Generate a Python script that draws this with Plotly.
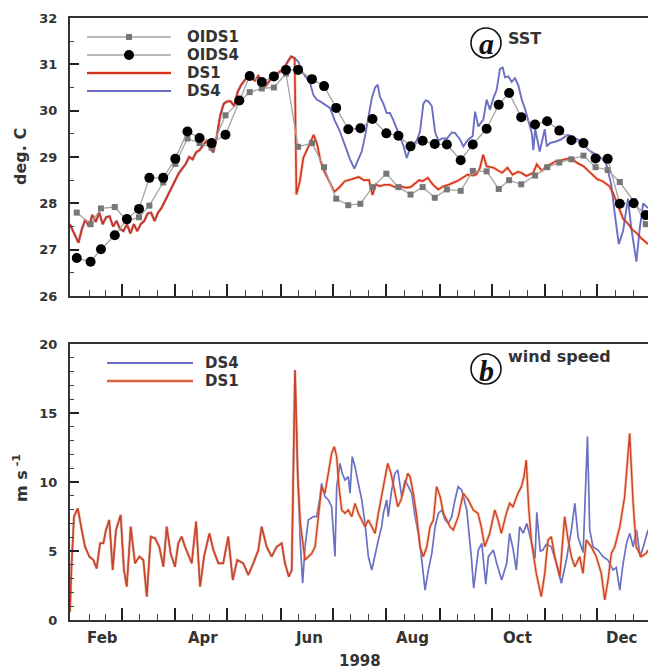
import plotly.graph_objects as go

# ---------------- data (x = day of year 1998) ----------------
# SST, DS1 run (the DS4 run is identical until the divergence in early June)
sst_ds1_day = [30, 32, 35, 37, 39, 41, 43, 45, 47, 49, 51, 53, 55, 57, 59, 61, 63, 65, 67, 69,
               71, 73, 75, 77, 79, 81, 83, 85, 87, 89, 91, 93, 95, 97, 99, 101, 103, 105, 107, 109,
               111, 113, 115, 117, 119, 121, 123, 125, 127, 129, 131, 133, 135, 137, 139, 141, 143, 146, 149, 152,
               154, 156, 158, 160, 161, 163, 165, 168, 170, 171, 173, 175, 177, 180, 183, 186, 189, 193, 197, 200,
               203, 205, 207, 209, 212, 215, 218, 221, 224, 227, 230, 232, 234, 237, 240, 243, 246, 249, 252, 254,
               257, 260, 263, 265, 267, 269, 271, 273, 275, 278, 280, 283, 286, 289, 291, 294, 296, 298, 300, 303,
               305, 308, 311, 314, 316, 320, 323, 327, 331, 335, 338, 342, 344, 347, 350, 353, 355, 358, 360, 364.3]
sst_ds1 = [27.55, 27.40, 27.15, 27.45, 27.65, 27.50, 27.75, 27.60, 27.80, 27.55, 27.70, 27.72, 27.50, 27.62, 27.45, 27.40, 27.55, 27.35, 27.55, 27.40,
           27.55, 27.62, 27.78, 27.80, 27.62, 27.80, 27.90, 28.05, 28.20, 28.35, 28.50, 28.65, 28.75, 28.85, 29.00, 28.95, 29.10, 29.15, 29.25, 29.35,
           29.20, 29.10, 29.45, 29.90, 30.15, 30.20, 30.20, 30.10, 30.40, 30.55, 30.65, 30.75, 30.70, 30.65, 30.75, 30.60, 30.52, 30.67, 30.77, 30.85,
           30.92, 31.06, 31.17, 31.13, 28.19, 28.48, 28.98, 29.23, 29.41, 29.48, 29.27, 28.91, 28.70, 28.48, 28.25, 28.35, 28.48, 28.52, 28.57, 28.50,
           28.50, 28.18, 28.41, 28.37, 28.40, 28.40, 28.35, 28.37, 28.34, 28.35, 28.44, 28.50, 28.48, 28.55, 28.40, 28.30, 28.37, 28.40, 28.45, 28.48,
           28.55, 28.62, 28.60, 28.62, 28.75, 29.05, 28.80, 28.78, 28.77, 28.70, 28.66, 28.77, 28.62, 28.68, 28.66, 28.59, 28.62, 28.66, 28.84, 28.70,
           28.78, 28.84, 28.91, 28.93, 28.95, 28.98, 28.88, 28.80, 28.66, 28.52, 28.48, 28.37, 28.23, 27.94, 27.66, 27.55, 27.44, 27.35, 27.26, 27.12]

# SST, DS4 run after it separates from DS1
sst_ds4_day = [162.1, 164.1, 166.0, 168.9, 170.8, 172.7, 174.7, 177.5, 180.4, 183.3, 186.2, 189.1, 192.0, 194.5, 196.8, 198.8, 200.7, 202.6, 204.6, 206.5,
               208.0, 209.3, 211.3, 213.2, 215.1, 217.0, 219.0, 220.9, 222.8, 224.8, 226.7, 228.6, 230.6, 232.5, 234.4, 235.8, 237.3, 239.3, 241.2, 243.1,
               245.1, 248.0, 250.8, 252.7, 255.6, 257.5, 260.4, 262.9, 264.3, 266.2, 269.1, 271.0, 272.9, 274.9, 276.8, 278.7, 280.3, 281.6, 283.5, 285.5,
               287.4, 289.3, 291.3, 293.2, 295.1, 297.1, 298.0, 299.1, 301.7, 304.6, 305.8, 307.6, 311.5, 314.1, 318.0, 321.9, 325.7, 329.6, 333.5, 337.3,
               340.2, 343.1, 345.0, 347.4, 349.9, 352.7, 354.7, 357.6, 359.5, 361.5, 364.3]
sst_ds4 = [31.06, 30.85, 30.74, 30.60, 30.34, 30.24, 30.20, 30.13, 30.06, 29.78, 29.55, 29.25, 28.95, 28.75, 28.95, 29.12, 29.45, 29.90, 30.27, 30.50,
           30.56, 30.30, 30.15, 29.95, 29.95, 29.80, 29.60, 29.41, 29.25, 28.98, 29.18, 29.25, 29.36, 29.55, 30.15, 30.22, 30.20, 30.10, 29.54, 29.35,
           29.40, 29.40, 29.53, 29.52, 29.38, 29.23, 29.38, 29.45, 29.98, 29.66, 29.81, 30.24, 30.02, 30.27, 30.45, 30.90, 30.93, 30.72, 30.74, 30.62,
           30.70, 30.55, 30.24, 30.04, 29.80, 29.52, 29.15, 29.60, 29.12, 29.60, 29.23, 29.30, 29.34, 29.38, 29.48, 29.41, 29.34, 29.16, 29.07, 28.98,
           28.85, 28.40, 27.80, 27.12, 27.40, 28.10, 27.45, 26.74, 27.45, 28.00, 27.90]

# weekly optimally interpolated SST
oi_day = [34, 42, 48, 56, 63, 70, 76, 84, 91, 98, 105, 112, 120, 128, 134, 141, 148, 155, 162, 170,
          177, 184, 191, 198, 205, 213, 220, 227, 234, 241, 248, 256, 263, 271, 278, 284, 291, 299, 306, 313,
          320, 327, 334, 341, 348, 356, 363]
oids1 = [27.80, 27.55, 27.89, 27.92, 27.62, 27.70, 27.95, 28.45, 28.85, 29.40, 29.30, 29.20, 29.90, 30.19, 30.40, 30.48, 30.50, 30.80, 29.22, 29.30,
         28.78, 28.10, 27.96, 27.99, 28.35, 28.64, 28.35, 28.19, 28.35, 28.12, 28.30, 28.27, 28.70, 28.69, 28.31, 28.50, 28.41, 28.60, 28.78, 28.88,
         28.95, 29.03, 28.78, 28.72, 28.46, 28.05, 27.55]
oids4 = [26.82, 26.74, 27.01, 27.31, 27.66, 27.88, 28.55, 28.55, 28.96, 29.55, 29.41, 29.30, 29.48, 30.22, 30.75, 30.62, 30.74, 30.88, 30.88, 30.68,
         30.53, 30.06, 29.60, 29.62, 29.82, 29.51, 29.46, 29.23, 29.35, 29.28, 29.27, 28.93, 29.27, 29.61, 30.13, 30.38, 29.86, 29.70, 29.77, 29.57,
         29.36, 29.30, 28.97, 28.96, 27.99, 28.00, 27.75]

# wind speed, common to both runs until the June event
wind_common_day = [30.1, 31.0, 32.4, 34.6, 36.9, 38.8, 41.3, 43.6, 45.5, 47.5, 49.4, 50.9, 52.8, 54.8, 56.7, 59.4, 61.3, 62.9, 65.2, 67.7,
                   70.2, 72.5, 74.5, 76.8, 79.3, 81.7, 84.1, 86.0, 88.3, 90.8, 92.7, 94.7, 96.6, 100.5, 103.0, 105.3, 107.6, 110.7, 113.0, 115.9,
                   118.7, 121.6, 124.2, 126.8, 130.3, 133.2, 136.1, 139.0, 140.9, 143.8, 146.7, 149.6, 152.5, 154.4, 156.6, 158.3, 160.2, 161.8]
wind_common = [0.6, 4.0, 7.49, 8.09, 6.52, 5.31, 4.59, 4.35, 3.74, 5.56, 5.56, 6.52, 7.25, 3.62, 6.52, 7.61, 3.62, 2.41, 6.76, 4.11,
               4.59, 4.35, 1.69, 6.04, 5.92, 5.31, 3.86, 6.76, 4.83, 3.86, 5.56, 6.04, 5.31, 4.11, 7.13, 2.41, 4.59, 6.28, 5.07, 4.11,
               4.11, 6.04, 2.90, 4.35, 4.11, 3.26, 4.11, 5.07, 6.76, 5.31, 4.59, 5.31, 5.56, 4.11, 3.14, 3.60, 18.12, 10.40]

wind_ds1_day = [163.3, 164.6, 166.0, 167.9, 169.9, 171.8, 173.7, 175.6, 177.5, 179.5, 181.4, 182.9, 184.3, 185.6, 187.2, 189.1, 191.0, 193.0, 194.9, 196.8,
                198.8, 200.7, 202.6, 204.6, 206.5, 208.4, 210.3, 212.2, 213.8, 215.7, 217.6, 219.6, 221.5, 223.4, 225.4, 226.7, 228.6, 230.6, 232.5, 234.4,
                236.4, 238.3, 240.2, 242.1, 244.1, 246.0, 248.0, 249.8, 251.7, 254.6, 257.5, 260.4, 263.3, 266.0, 267.9, 269.9, 272.8, 275.7, 277.6, 279.5,
                282.4, 284.3, 286.2, 289.1, 291.1, 292.6, 293.9, 295.3, 296.8, 299.7, 302.6, 304.6, 306.5, 308.4, 310.4, 313.3, 316.1, 318.1, 320.0, 322.0,
                324.8, 326.7, 328.6, 331.5, 334.4, 337.3, 339.3, 341.2, 343.1, 345.1, 348.0, 350.8, 353.7, 355.6, 357.5, 360.4, 363.3, 364.3]
wind_ds1 = [7.00, 5.50, 4.35, 4.59, 4.83, 5.31, 7.49, 9.66, 9.18, 10.63, 12.08, 12.56, 11.84, 9.66, 7.97, 7.73, 7.97, 7.49, 8.45, 7.73,
            7.25, 6.76, 7.25, 6.76, 6.28, 7.73, 8.94, 10.14, 11.35, 10.63, 9.42, 8.21, 8.70, 9.66, 10.63, 10.39, 9.18, 7.49, 5.31, 4.59,
            5.31, 6.76, 7.25, 9.66, 8.94, 7.73, 7.25, 6.76, 6.52, 7.49, 9.18, 8.70, 7.97, 7.73, 6.76, 5.31, 6.28, 7.97, 7.25, 6.28,
            7.73, 8.45, 8.21, 9.18, 9.66, 10.39, 11.59, 8.21, 5.80, 3.38, 1.69, 3.38, 5.80, 6.04, 4.59, 3.14, 7.49, 5.80, 4.59, 3.86,
            4.59, 3.38, 5.80, 5.31, 4.59, 3.38, 1.45, 2.90, 4.83, 5.31, 6.76, 8.94, 13.53, 8.70, 5.31, 4.59, 4.83, 5.07]

wind_ds4_day = [163.3, 164.6, 166.0, 167.9, 170.8, 172.7, 174.7, 175.6, 177.5, 179.5, 181.4, 183.3, 184.3, 186.2, 187.5, 189.1, 191.0, 192.0, 193.3, 194.9,
                196.8, 198.8, 200.7, 202.6, 204.6, 206.5, 208.4, 210.3, 211.3, 213.2, 214.1, 216.1, 218.0, 219.6, 220.9, 221.9, 223.8, 225.7, 227.7, 229.6,
                231.5, 233.5, 235.4, 237.3, 239.3, 241.2, 243.1, 245.1, 247.0, 248.9, 250.8, 252.7, 254.5, 256.6, 259.5, 262.2, 263.5, 266.2, 268.2, 270.5,
                272.0, 274.9, 276.8, 279.7, 282.6, 284.3, 286.2, 288.2, 290.1, 292.2, 294.2, 296.1, 298.0, 299.0, 300.0, 302.0, 303.5, 305.5, 308.4, 311.3,
                314.2, 317.1, 320.0, 322.0, 323.9, 326.8, 329.3, 330.6, 332.5, 335.4, 338.3, 341.1, 344.1, 346.0, 348.0, 349.9, 351.9, 353.8, 355.7, 357.7,
                359.7, 361.6, 364.3]
wind_ds4 = [5.50, 2.66, 5.31, 7.25, 7.49, 7.49, 8.94, 9.90, 8.94, 8.70, 8.21, 4.60, 9.66, 11.35, 10.63, 10.14, 10.39, 9.18, 11.84, 11.11,
            9.90, 8.70, 7.00, 4.59, 3.62, 4.83, 5.80, 6.76, 7.73, 8.70, 7.49, 9.42, 10.63, 10.87, 9.90, 8.94, 10.14, 9.66, 9.18, 7.49,
            6.28, 4.35, 2.17, 3.62, 4.83, 6.76, 7.73, 7.97, 7.25, 7.00, 7.49, 8.70, 9.66, 9.42, 7.97, 4.50, 2.30, 5.07, 5.56, 2.60,
            4.59, 5.07, 4.11, 2.90, 4.11, 6.28, 5.20, 3.62, 6.76, 6.28, 7.00, 6.04, 5.07, 4.50, 7.80, 5.00, 5.07, 5.50, 5.31, 4.11,
            2.66, 4.35, 6.52, 8.45, 6.00, 4.90, 13.29, 6.52, 5.31, 5.07, 4.59, 4.35, 3.62, 3.80, 2.17, 4.11, 5.56, 6.28, 5.31, 6.52,
            4.59, 5.31, 6.52]

# axis ticks
month_start = [60, 91, 121, 152, 182, 213, 244, 274, 305, 335]
month_len = [28, 31, 30, 31, 30, 31, 31, 30, 31, 30, 31]
month_label = ["Feb", "Apr", "Jun", "Aug", "Oct", "Dec"]
month_label_day = [49, 107, 168, 228, 289, 349]

# ---------------- assembly ----------------
split = sst_ds1_day.index(160)
sst_ds4_full_day = sst_ds1_day[:split + 1] + sst_ds4_day
sst_ds4_full = sst_ds1[:split + 1] + sst_ds4
wind_ds1_full_day = wind_common_day + wind_ds1_day
wind_ds1_full = wind_common + wind_ds1
wind_ds4_full_day = wind_common_day + wind_ds4_day
wind_ds4_full = wind_common + wind_ds4

starts_all = [32] + month_start
minor_ticks = [s + k * l / 3 for s, l in zip(starts_all, month_len) for k in (1, 2)]

RED = "#d3321e"
RED_GLOW = "rgba(245,140,90,0.45)"
RED_W = "#cf4024"
RED_W_GLOW = "rgba(240,150,100,0.5)"
BLUE = "#6a70c2"
GREY_LINE = "#a3a3a3"
TXT = "#333333"
FONT = "DejaVu Sans"

X_RANGE = [30.1, 364.3]
L, R_PIX, B_PIX, T_PIX = 70, 648, 620, 18


def pxx(x):
    return (x - L) / (R_PIX - L)


def pxy(y):
    return (B_PIX - y) / (B_PIX - T_PIX)


fig = go.Figure()

# --- SST panel ---
fig.add_trace(go.Scatter(x=sst_ds1_day, y=sst_ds1, mode="lines", line=dict(color=RED_GLOW, width=3.2),
                         xaxis="x", yaxis="y", hoverinfo="skip"))
fig.add_trace(go.Scatter(x=sst_ds4_full_day, y=sst_ds4_full, mode="lines", line=dict(color=BLUE, width=1.9),
                         xaxis="x", yaxis="y", name="DS4"))
fig.add_trace(go.Scatter(x=sst_ds1_day, y=sst_ds1, mode="lines", line=dict(color=RED, width=1.6),
                         xaxis="x", yaxis="y", name="DS1"))
fig.add_trace(go.Scatter(x=oi_day, y=oids1, mode="lines+markers", line=dict(color=GREY_LINE, width=1.3),
                         marker=dict(symbol="square", size=6, color="#777777"), xaxis="x", yaxis="y", name="OIDS1"))
fig.add_trace(go.Scatter(x=oi_day, y=oids4, mode="lines+markers", line=dict(color=GREY_LINE, width=1.3),
                         marker=dict(symbol="circle", size=10, color="#000000"), xaxis="x", yaxis="y", name="OIDS4"))

# --- wind panel ---
fig.add_trace(go.Scatter(x=wind_ds4_full_day, y=wind_ds4_full, mode="lines", line=dict(color=BLUE, width=1.7),
                         xaxis="x2", yaxis="y2", name="DS4"))
fig.add_trace(go.Scatter(x=wind_ds1_full_day, y=wind_ds1_full, mode="lines", line=dict(color=RED_W_GLOW, width=3.0),
                         xaxis="x2", yaxis="y2", hoverinfo="skip"))
fig.add_trace(go.Scatter(x=wind_ds1_full_day, y=wind_ds1_full, mode="lines", line=dict(color=RED_W, width=1.4),
                         xaxis="x2", yaxis="y2", name="DS1"))

axis_common = dict(showgrid=False, zeroline=False, showline=True, linecolor="#333333", linewidth=2,
                   ticks="inside", tickcolor="#222222", automargin=False)
xcommon = dict(axis_common, range=X_RANGE, tickmode="array", tickvals=month_start, ticklen=12, tickwidth=2,
               showticklabels=False, mirror=True,
               minor=dict(tickmode="array", tickvals=minor_ticks, ticks="inside", ticklen=6, tickwidth=1.3,
                          tickcolor="#444444"))
ytick_font = dict(family=FONT, size=13, color=TXT, weight="bold")

top_dom = [pxy(296), 1.0]
bot_dom = [0.0, pxy(344)]

fig.update_layout(
    width=648, height=669,
    margin=dict(l=L, r=0, t=T_PIX, b=669 - B_PIX, autoexpand=False),
    paper_bgcolor="white", plot_bgcolor="white",
    showlegend=False, template="none",
    xaxis=dict(xcommon, anchor="y"),
    yaxis=dict(axis_common, domain=top_dom, range=[26, 32], tickmode="linear", tick0=26, dtick=1,
               ticklen=9, tickwidth=2, tickfont=ytick_font, ticklabelstandoff=8,
               minor=dict(dtick=0.5, ticks="inside", ticklen=4, tickwidth=1.2, tickcolor="#444444")),
    xaxis2=dict(xcommon, anchor="y2"),
    yaxis2=dict(axis_common, domain=bot_dom, range=[0, 20], tickmode="linear", tick0=0, dtick=5,
                ticklen=9, tickwidth=2, tickfont=ytick_font, ticklabelstandoff=8,
                minor=dict(dtick=1, ticks="inside", ticklen=4, tickwidth=1.2, tickcolor="#444444")),
)

shapes = []
ann = []


def txt(x, y, s, size, xanchor="left", yanchor="middle", **kw):
    ann.append(dict(x=pxx(x), y=pxy(y), xref="paper", yref="paper", text=s, showarrow=False,
                    xanchor=xanchor, yanchor=yanchor,
                    font=kw.pop("font", dict(family=FONT, size=size, color=TXT, weight="bold")), **kw))


def hline(x0, x1, y, color, width):
    shapes.append(dict(type="line", xref="paper", yref="paper", x0=pxx(x0), x1=pxx(x1), y0=pxy(y), y1=pxy(y),
                       line=dict(color=color, width=width)))


# legend, SST panel
for yy, lab in zip([37, 55, 73, 91], ["OIDS1", "OIDS4", "DS1", "DS4"]):
    txt(185, yy, lab, 15)
hline(87, 171, 37, GREY_LINE, 1.5)
hline(87, 171, 55, GREY_LINE, 1.5)
hline(87, 171, 73, RED_GLOW, 3.5)
hline(87, 171, 73, RED, 1.8)
hline(87, 171, 91, BLUE, 2.2)
shapes.append(dict(type="rect", xref="paper", yref="paper", x0=pxx(126), x1=pxx(132), y0=pxy(34), y1=pxy(40),
                   fillcolor="#777777", line=dict(width=0)))
shapes.append(dict(type="circle", xref="paper", yref="paper", x0=pxx(124), x1=pxx(134), y0=pxy(50), y1=pxy(60),
                   fillcolor="#000000", line=dict(width=0)))

# legend, wind panel
txt(203, 363, "DS4", 15)
txt(203, 381, "DS1", 15)
hline(107, 193, 363, BLUE, 2.2)
hline(107, 193, 381, RED_W_GLOW, 3.5)
hline(107, 193, 381, RED_W, 1.6)

# panel tags
for cy, letter, lab, ly in [(43, "a", "SST", 39), (369, "b", "wind speed", 356)]:
    shapes.append(dict(type="circle", xref="paper", yref="paper", x0=pxx(471), x1=pxx(501),
                       y0=pxy(cy - 15), y1=pxy(cy + 15), line=dict(color="#111111", width=1.6)))
    txt(486, cy + 1, "<b><i>%s</i></b>" % letter, 30, xanchor="center",
        font=dict(family="Liberation Serif", size=30, color="#111111"))
    txt(506, ly, lab, 16)

# axis titles
txt(20, 157, "deg. C", 16, xanchor="center", textangle=-90)
txt(20, 478, "m s<sup> -1</sup>", 16, xanchor="center", textangle=-90)
txt(360, 661, "1998", 15, xanchor="center")

fig.update_layout(shapes=shapes, annotations=ann)

# month names centred in their month on the lower axis
for d, m in zip(month_label_day, month_label):
    fig.add_annotation(x=d, y=pxy(638), xref="x2", yref="paper", text=m, showarrow=False,
                       xanchor="center", yanchor="middle",
                       font=dict(family=FONT, size=15, color=TXT, weight="bold"))

fig.write_html("out.html")
